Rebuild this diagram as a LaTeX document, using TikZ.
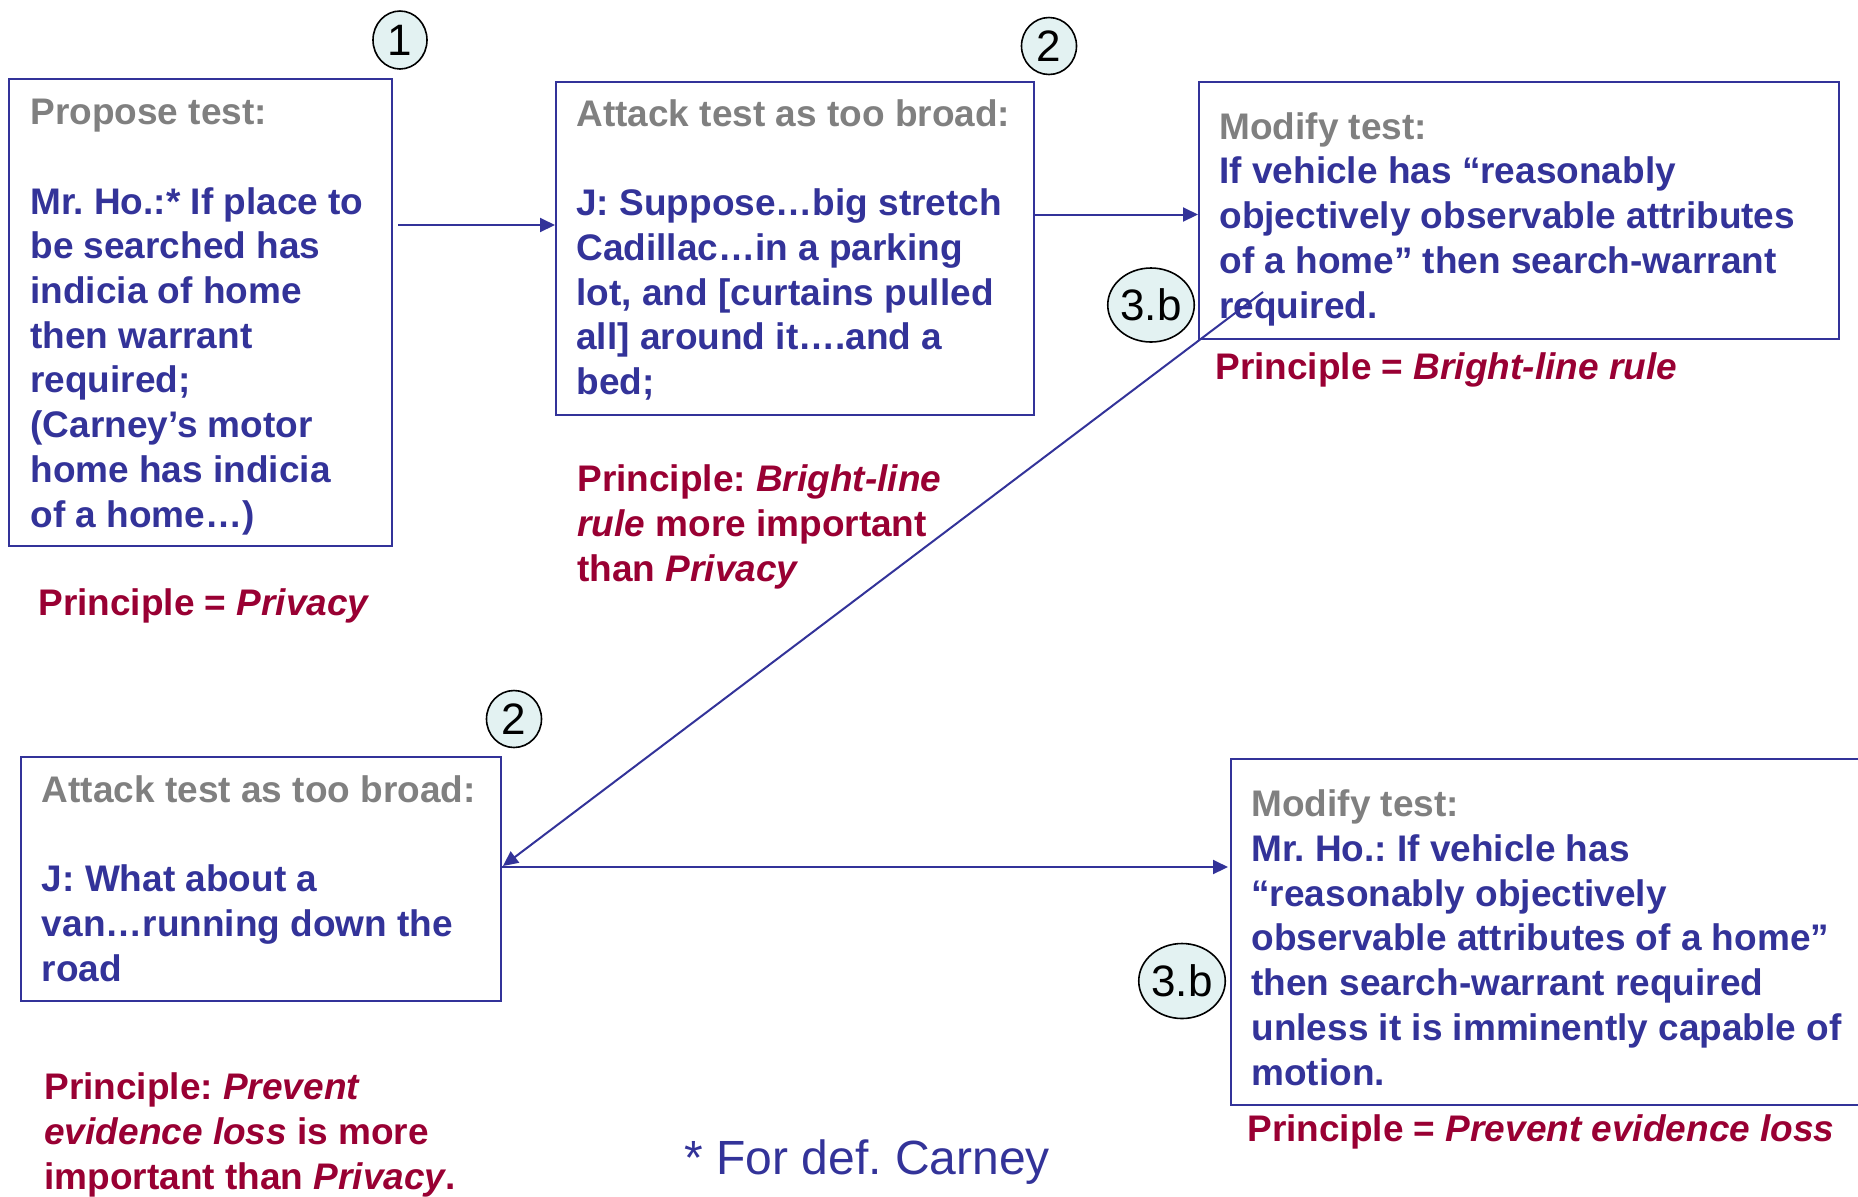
\documentclass[tikz,border=0pt]{standalone}
\usepackage{fontspec}
\setmainfont{Liberation Sans}
\usetikzlibrary{shapes.geometric, arrows.meta}
\frenchspacing

\definecolor{testblue}{RGB}{51,51,153}
\definecolor{headgray}{RGB}{128,128,128}
\definecolor{principlered}{RGB}{153,0,51}
\definecolor{markfill}{RGB}{227,242,242}

\newcommand{\headtxt}[1]{\textcolor{headgray}{#1}}

\tikzset{
	box/.style={draw=testblue, line width=1pt, anchor=north west, inner sep=0pt},
	% multi-line texts sit on the baseline of their last line
	body/.style={anchor=base west, inner sep=0pt, align=left, text=testblue,
		font=\bfseries\fontsize{18.5}{22.35}\selectfont},
	principle/.style={body, text=principlered},
	stepmark/.style={ellipse, draw=black, fill=markfill, line width=0.8pt, inner sep=0pt,
		font=\fontsize{22}{22}\selectfont},
	flow/.style={draw=testblue, line width=1pt, -{Triangle[length=7.5pt,width=7pt]}},
}

\begin{document}
\begin{tikzpicture}[x=0.5pt, y=-0.5pt]
		\useasboundingbox (0,0) rectangle (1858,1196);
		% boxes
		\node[box, minimum width=191.5pt, minimum height=233.5pt] (propose) at (8,78) {};
		\node[box, minimum width=239pt, minimum height=166.5pt] (attack1) at (555,81) {};
		\node[box, minimum width=320pt, minimum height=128.5pt] (modify1) at (1198,81) {};
		\node[box, minimum width=240pt, minimum height=122pt] (attack2) at (20,756) {};
		\node[box, minimum width=325pt, minimum height=173pt] (modify2) at (1230,758) {};
		% box texts
		\node[body] (proposetxt) at ([shift={(22,-20)}]propose.south west)
			{\headtxt{Propose test:}\\[22.35pt]
			Mr. Ho.:* If place to\\ be searched has\\ indicia of home\\ then warrant\\
			required;\\ (Carney’s motor\\ home has indicia\\ of a home…)};
		\node[body] (attack1txt) at ([shift={(21,-21.5)}]attack1.south west)
			{\headtxt{Attack test as too broad:}\\[22.35pt]
			J: Suppose…big stretch\\ Cadillac…in a parking\\ lot, and [curtains pulled\\
			all] around it….and a\\ bed;};
		\node[body] (modify1txt) at ([shift={(21,-22)}]modify1.south west)
			{\headtxt{Modify test:}\\ If vehicle has “reasonably\\
			objectively observable attributes\\ of a home” then search-warrant\\ required.};
		\node[body] (attack2txt) at ([shift={(21.5,-21)}]attack2.south west)
			{\headtxt{Attack test as too broad:}\\[22.35pt]
			J: What about a\\ van…running down the\\ road};
		\node[body] (modify2txt) at ([shift={(21,-21)}]modify2.south west)
			{\headtxt{Modify test:}\\ Mr. Ho.: If vehicle has\\ “reasonably objectively\\
			observable attributes of a home”\\ then search-warrant required\\
			unless it is imminently capable of\\ motion.};
		% principles
		\node[principle] (privacy) at (38,615) {Principle = \textit{Privacy}};
		\node[principle] (brightfirst) at (577,581)
			{Principle: \textit{Bright-line}\\ \textit{rule} more important\\ than \textit{Privacy}};
		\node[principle] (bright) at (1215,379) {Principle = \textit{Bright-line rule}};
		\node[principle] (evidencefirst) at (44,1189)
			{Principle: \textit{Prevent}\\ \textit{evidence loss} is more\\ important than \textit{Privacy}.};
		\node[principle] (evidence) at (1247,1141) {Principle = \textit{Prevent evidence loss}};
		\node[anchor=base west, inner sep=0pt, text=testblue, font=\fontsize{24}{24}\selectfont]
			(carney) at (684,1174) {* For def. Carney};
		% step marks
		\node[stepmark, minimum width=27pt, minimum height=29pt] (one) at (400,40) {1};
		\node[stepmark, minimum width=27.5pt, minimum height=28.5pt] (twotop) at (1049,46) {2};
		\node[stepmark, minimum width=35pt, minimum height=37pt] (threetop) at (1151,305) {3.b};
		\node[stepmark, minimum width=27.5pt, minimum height=28.5pt] (twobot) at (514,719) {2};
		\node[stepmark, minimum width=34.5pt, minimum height=37.5pt] (threebot) at (1182,981) {3.b};
		% connectors
		\draw[flow] ([shift={(5,147)}]propose.north east) -- ([shift={(0,144)}]attack1.north west);
		\draw[flow] ([shift={(0,133.5)}]attack1.north east) -- ([shift={(0,133.5)}]modify1.north west);
		\draw[flow] ([shift={(65,211)}]modify1.north west) -- ([shift={(1,110)}]attack2.north east);
		\draw[flow] ([shift={(0,111)}]attack2.north east) -- ([shift={(-2,109)}]modify2.north west);
\end{tikzpicture}
\end{document}
